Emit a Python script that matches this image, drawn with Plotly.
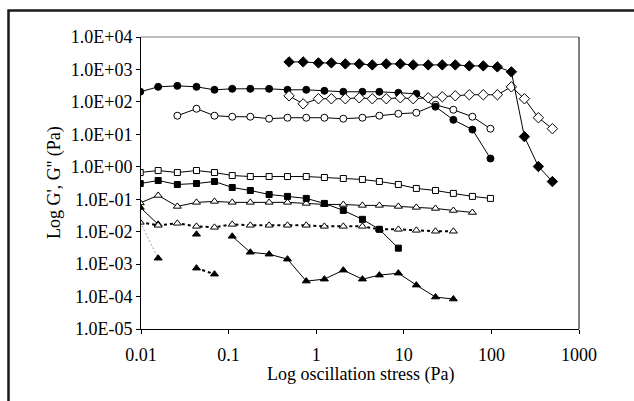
import plotly.graph_objects as go

# stress grid shared by the circle / square / triangle series (Pa)
stress_a = [0.0098, 0.0157, 0.026, 0.043, 0.069, 0.110, 0.177, 0.29, 0.47, 0.77,
            1.24, 2.04, 3.37, 5.26, 8.67, 13.9, 23.0, 36.8, 60.7, 97.5]
# stress grid of the diamond series (Pa)
stress_b = [0.49, 0.71, 1.06, 1.49, 2.15, 3.10, 4.37, 6.31, 9.12, 12.8,
            19.0, 27.5, 38.7, 55.9, 80.8, 117, 169, 238, 344, 497]

diam_filled = [1706, 1706, 1590, 1590, 1482, 1482, 1380, 1482, 1482, 1380,
               1380, 1380, 1380, 1286, 1286, 1199, 842, 8.5, 1.02, 0.35]
diam_open = [154, 87, 125, 125, 125, 134, 125, 125, 134, 125,
             134, 144, 154, 166, 166, 166, 291, 125, 32.5, 14.9]
circ_filled = [205, 291, 312, 291, 236, 253, 253, 253, 236, 236,
               220, 205, 205, 205, 191, 178, 71, 28, 14, 1.8]
circ_open = [37.5, 61.5, 37.5, 34.9, 34.9, 30.3, 32.5, 32.5, 32.5, 30.3,
             32.5, 37.5, 43.1, 46.3, 81.6, 57.3, 34.9, 14.9]          # from stress_a[2]
sq_open = [0.665, 0.767, 0.665, 0.767, 0.665, 0.538, 0.50, 0.50, 0.50, 0.50,
           0.467, 0.435, 0.406, 0.352, 0.285, 0.215, 0.186, 0.151, 0.122, 0.106]
sq_filled = [0.305, 0.377, 0.285, 0.305, 0.352, 0.230, 0.186, 0.140, 0.122, 0.106,
             0.0743, 0.0453, 0.024, 0.0118, 0.0031]
tri_open = [0.077, 0.131, 0.060, 0.080, 0.0856, 0.080, 0.080, 0.080, 0.080, 0.0743,
            0.069, 0.069, 0.0645, 0.0645, 0.060, 0.056, 0.052, 0.045, 0.039]
tri_open_d = [0.0194, 0.0157, 0.0181, 0.0146, 0.0136, 0.0168, 0.0157, 0.0157, 0.0157,
              0.0157, 0.0146, 0.0146, 0.0146, 0.0118, 0.0118, 0.0110, 0.0103, 0.0103]
tri_filled = [0.056, 0.0168, None, 0.0083, None, 0.0072, 0.00232, 0.00202, 0.00142,
              0.000299, 0.000344, 0.00065, 0.000344, 0.000457, 0.000526, 0.000225,
              0.0000964, 0.0000838]
tri_filled_d = [0.0194, 0.00152, None, 0.00075, 0.00049]

y_ticks = [1e-5, 1e-4, 1e-3, 1e-2, 1e-1, 1e0, 1e1, 1e2, 1e3, 1e4]
y_labels = ['1.0E-05', '1.0E-04', '1.0E-03', '1.0E-02', '1.0E-01',
            '1.0E+00', '1.0E+01', '1.0E+02', '1.0E+03', '1.0E+04']
x_ticks = [0.01, 0.1, 1, 10, 100, 1000]
x_labels = ['0.01', '0.1', '1', '10', '100', '1000']

FONT = 'Liberation Serif'
W, H = 634, 401
L, R, T, B = 141, 55, 37, 72
pw, ph = W - L - R, H - T - B


def px(x):
    return (x - L) / pw


def py(y):
    return (H - B - y) / ph


def series(x, y, symbol, fill, size, dash='solid', width=1):
    return go.Scatter(x=x, y=y, mode='lines+markers', connectgaps=False,
                      line=dict(color='black', width=width, dash=dash),
                      marker=dict(symbol=symbol, size=size, color=fill,
                                  line=dict(color='black', width=1)),
                      showlegend=False)


fig = go.Figure()
# steep first segment of the dashed filled triangles looks grey dotted
fig.add_trace(go.Scatter(x=stress_a[:2], y=tri_filled_d[:2], mode='lines',
                         line=dict(color='#a0a0a0', width=1, dash='2px,2px'),
                         showlegend=False))
fig.add_trace(series(stress_a[1:5], tri_filled_d[1:], 'triangle-up', 'black', 7,
                     '3px,3px', 2))
fig.add_trace(series(stress_a[:len(tri_filled)], tri_filled, 'triangle-up', 'black', 7))
fig.add_trace(series(stress_a[:len(tri_open_d)], tri_open_d, 'triangle-up', 'white', 7,
                     '3px,3px', 2))
fig.add_trace(series(stress_a[:len(tri_open)], tri_open, 'triangle-up', 'white', 7))
fig.add_trace(series(stress_a[:len(sq_filled)], sq_filled, 'square', 'black', 6))
fig.add_trace(series(stress_a, sq_open, 'square', 'white', 6))
fig.add_trace(series(stress_a[2:], circ_open, 'circle', 'white', 7))
fig.add_trace(series(stress_a, circ_filled, 'circle', 'black', 7))
fig.add_trace(series(stress_b, diam_open, 'diamond', 'white', 8))
fig.add_trace(series(stress_b, diam_filled, 'diamond', 'black', 8))

axis_style = dict(type='log', showgrid=False, zeroline=False, showline=True,
                  linecolor='black', linewidth=1, ticks='outside', ticklen=4,
                  tickcolor='black', tickfont=dict(size=18))

fig.update_layout(
    width=W, height=H, margin=dict(l=L, r=R, t=T, b=B),
    paper_bgcolor='white', plot_bgcolor='white',
    font=dict(family=FONT, size=18, color='black'),
    xaxis=dict(range=[-2, 3], tickvals=x_ticks, ticktext=x_labels,
               ticklabelstandoff=5, **axis_style),
    yaxis=dict(range=[-5, 4], tickvals=y_ticks, ticktext=y_labels, **axis_style),
    shapes=[
        dict(type='rect', xref='paper', yref='paper', x0=px(8.5), x1=px(660),
             y0=py(430), y1=py(10.5), line=dict(color='#1a1a1a', width=2.5)),
        dict(type='line', xref='paper', yref='paper', x0=0, x1=1, y0=1, y1=1,
             line=dict(color='#808080', width=1.2)),
        dict(type='line', xref='paper', yref='paper', x0=1, x1=1, y0=0, y1=1,
             line=dict(color='black', width=1)),
    ],
    annotations=[
        dict(text='Log oscillation stress (Pa)', xref='paper', yref='paper',
             x=0.5, y=py(374), showarrow=False, xanchor='center', yanchor='middle'),
        dict(text="Log G', G'' (Pa)", xref='paper', yref='paper', textangle=-90,
             x=px(54), y=0.5, showarrow=False, xanchor='center', yanchor='middle'),
    ],
)

# the page body has a default 8px margin; drop it so the figure sits at 0,0
fig.write_html("out.html", config={'displayModeBar': False},
               post_script="document.body.style.margin='0';")
